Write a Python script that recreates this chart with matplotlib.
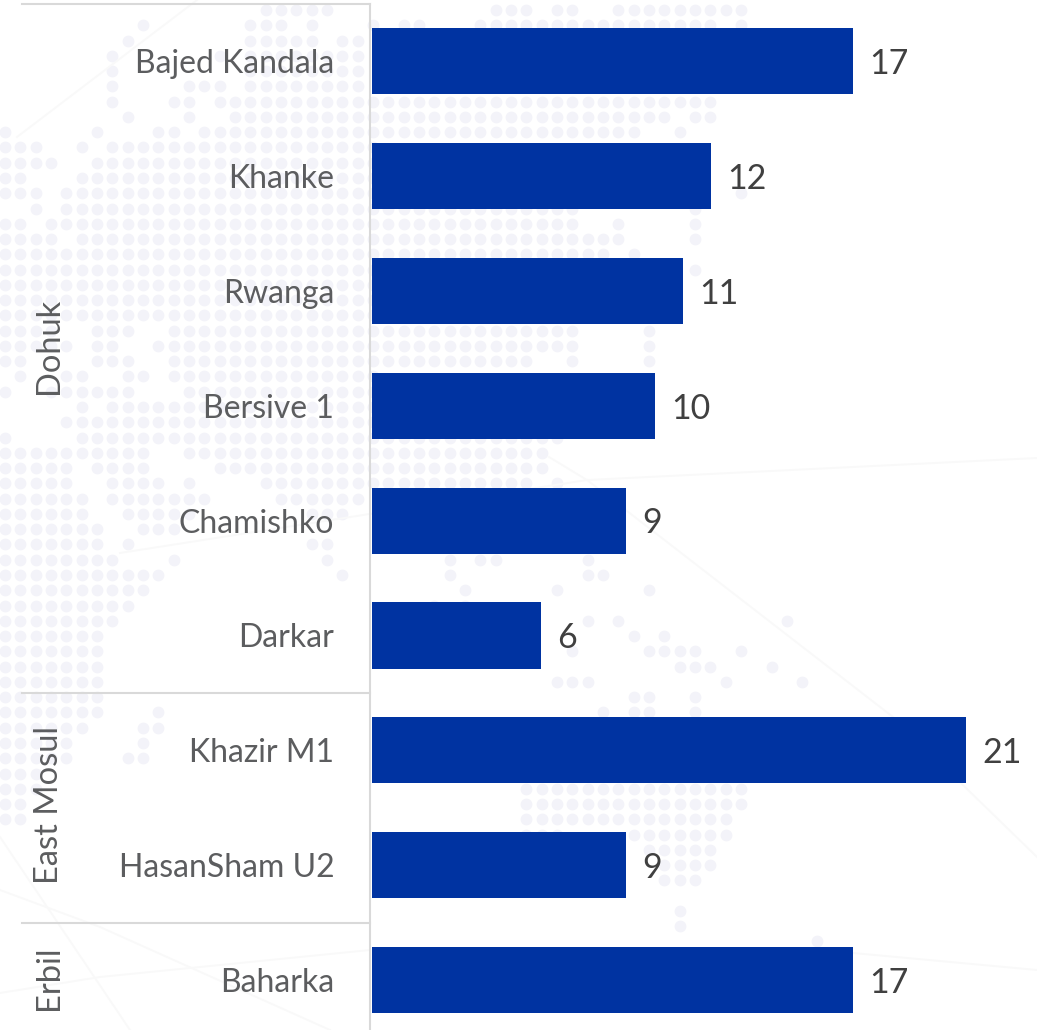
import matplotlib
matplotlib.use("Agg")
import matplotlib.pyplot as plt
import numpy as np

plt.rcParams['font.family'] = ['Lato', 'DejaVu Sans']
plt.rcParams['font.weight'] = 400

sites = ["Bajed Kandala", "Khanke", "Rwanga", "Bersive 1", "Chamishko", "Darkar",
         "Khazir M1", "HasanSham U2", "Baharka"]
values = [17, 12, 11, 10, 9, 6, 21, 9, 17]
groups = ["Dohuk", "East Mosul", "Erbil"]
group_sizes = [6, 2, 1]

# faint world map behind the chart: row -> (first col, last col) runs
map_rows = {
    0: [(17, 21), (32, 34), (36, 37), (40, 48)],
    1: [(9, 9), (16, 18), (20, 20), (24, 24), (26, 27), (31, 46), (48, 48)],
    2: [(8, 8), (16, 20), (22, 23)],
    3: [(7, 7), (14, 14), (16, 23)],
    4: [(7, 7), (16, 23)],
    5: [(7, 7), (12, 14), (16, 23)],
    6: [(7, 7), (11, 12), (14, 46)],
    7: [(8, 8), (12, 12), (15, 43), (45, 46)],
    8: [(0, 0), (6, 6), (10, 11), (13, 41), (44, 44)],
    9: [(0, 2), (5, 5), (7, 24)],
    10: [(0, 3), (6, 24)],
    11: [(0, 1), (5, 24)],
    12: [(0, 2), (4, 24), (48, 48)],
    13: [(2, 2), (4, 37), (45, 45)],
    14: [(0, 1), (3, 37), (40, 40), (45, 45)],
    15: [(0, 3), (5, 40), (45, 45)],
    16: [(0, 39), (41, 41)],
    17: [(0, 24), (45, 45)],
    18: [(0, 24)],
    19: [(0, 24)],
    20: [(0, 24)],
    21: [(0, 3), (6, 8), (11, 37), (42, 42)],
    22: [(0, 4), (6, 7), (10, 37), (42, 42)],
    23: [(0, 1), (6, 8), (11, 34), (37, 37), (42, 42)],
    24: [(1, 1), (4, 5), (8, 9), (11, 24)],
    25: [(0, 0), (3, 8), (12, 24)],
    26: [(5, 5), (7, 24)],
    27: [(4, 24)],
    28: [(0, 0), (5, 36)],
    29: [(0, 9), (12, 35)],
    30: [(0, 4), (6, 9), (14, 35)],
    31: [(0, 4), (7, 10), (12, 12), (17, 34), (36, 36)],
    32: [(0, 5), (7, 13), (18, 23)],
    33: [(0, 5), (8, 12), (20, 22)],
    34: [(0, 6), (9, 11)],
    35: [(0, 6), (8, 8), (20, 21)],
    36: [(0, 7), (11, 11), (21, 21), (29, 29), (31, 32), (38, 38)],
    37: [(0, 10), (22, 22), (29, 29), (38, 39)],
    38: [(0, 9), (30, 30), (36, 36), (42, 42)],
    39: [(0, 8), (28, 28), (30, 30)],
    40: [(0, 7), (38, 38), (40, 40), (51, 51)],
    41: [(0, 6), (41, 41), (43, 43)],
    42: [(0, 6), (37, 37), (42, 45), (48, 48)],
    43: [(0, 6), (44, 46), (50, 50)],
    44: [(0, 6), (36, 38), (47, 47), (52, 52)],
    45: [(0, 6), (41, 42), (45, 45)],
    46: [(0, 6), (10, 10), (39, 39), (41, 42), (45, 45)],
    47: [(0, 5), (9, 10)],
    48: [(0, 4), (9, 9)],
    49: [(0, 4), (8, 9)],
    50: [(0, 2)],
    51: [(0, 2), (34, 48)],
    52: [(0, 1), (34, 48)],
    53: [(0, 1), (34, 47)],
    54: [(34, 36), (41, 47)],
    55: [(42, 46)],
    56: [(43, 46)],
    57: [(43, 45)],
    59: [(44, 44)],
    60: [(44, 44)],
    61: [(53, 53)],
}
# faint route lines, in pixels of the picture
route_lines = [
    [(120, 553), (587, 480), (1037, 458)],
    [(549, 457), (587, 480), (893, 717), (1037, 857)],
    [(17, 137), (197, 0)],
    [(0, 890), (100, 927), (330, 1030)],
    [(0, 993), (100, 977), (370, 950)],
    [(0, 837), (130, 1030)],
    [(853, 953), (1037, 970)],
]

fig = plt.figure()
fig.set_size_inches(10.37, 10.30)

bg = fig.add_axes([0, 0, 1, 1], zorder=0)
bg.set_xlim(0, 1037)
bg.set_ylim(1030, 0)
bg.axis('off')
for line in route_lines:
    xs, ys = zip(*line)
    bg.plot(xs, ys, color='#f9f9f9', lw=1.4)
dot_x = []
dot_y = []
for row, runs in map_rows.items():
    for a, b in runs:
        for col in range(a, b + 1):
            dot_x.append(5 + 15.33 * col)
            dot_y.append(10 + 15.27 * row)
bg.scatter(dot_x, dot_y, s=72, color='#f3f3f9', linewidths=0)

ax = fig.add_axes([371.5 / 1037, 0, (1037 - 371.5) / 1037, 1026 / 1030], zorder=1)
ax.patch.set_visible(False)

for s in ['top', 'right', 'bottom']:
    ax.spines[s].set_visible(False)
ax.spines['left'].set_position(('outward', 1.0))
ax.spines['left'].set_color('#d9d9d9')
ax.spines['left'].set_linewidth(1.5)

y = np.arange(len(sites))
bars = ax.barh(y, values, height=0.575, color='#0033a1')
ax.set_xlim(0, 665.5 / 28.33)
ax.set_ylim(8.436, -0.5)
ax.set_yticks(y)
ax.set_yticklabels(sites, fontsize=23, color='#5c5d5f')
ax.tick_params(axis='y', length=0, pad=25.8)
ax.set_xticks([])
for t in ax.bar_label(bars, padding=11.5, fontsize=24.5, color='#404040'):
    t.xyann = (11.5, -2.0)

# group separators and rotated group names
tr = ax.get_yaxis_transform()
start = -0.5
ax.plot([-0.525, -0.002], [start, start], transform=tr, color='#d9d9d9', lw=1.5, clip_on=False)
for name, n in zip(groups, group_sizes):
    end = start + n
    ax.text(-0.4846, (start + end) / 2 - 0.02, name, transform=tr, rotation=90, ha='center',
            va='center', fontsize=23.5, color='#5c5d5f')
    if end < len(sites) - 0.5:
        ax.plot([-0.525, -0.002], [end, end], transform=tr, color='#d9d9d9', lw=1.5, clip_on=False)
    start = end

plt.savefig("out.png", dpi=100)
